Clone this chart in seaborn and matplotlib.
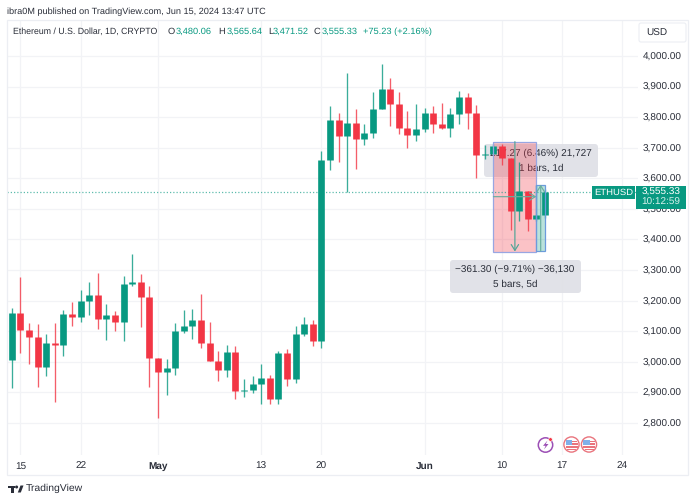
import numpy as np
import pandas as pd
import matplotlib
matplotlib.use("Agg")
import matplotlib.pyplot as plt
from matplotlib.patches import Rectangle, FancyBboxPatch, Circle, Polygon
import seaborn as sns

# --- data -----------------------------------------------------------------
dates = pd.date_range("2024-04-14", "2024-06-15", freq="D")
opens = [3006,3158,3104,3082,2984,3063,3055,3155,3145,3199,3218,3139,3153,3129,3253,3260,3213,3011,2968,2981,3101,3117,3137,3060,3003,2973,3033,2906,2908,2926,2946,2878,3029,2944,3090,3123,3069,
         3660,3791,3738,3782,3727,3749,3826,3893,3842,3763,3743,3760,3812,3779,3764,3809,3866,3815,3676,3680,3706,3665,3494,3558,3466,3480.06]
closes = [3158,3104,3082,2984,3063,3055,3155,3145,3199,3218,3139,3153,3129,3253,3260,3213,3011,2968,2981,3101,3117,3137,3060,3003,2973,3033,2906,2908,2926,2946,2878,3029,2944,3090,3123,3069,3660,
          3791,3738,3782,3727,3749,3826,3893,3842,3763,3743,3760,3812,3779,3764,3809,3866,3815,3676,3680,3706,3667,3494,3558,3466,3480,3555.33]
highs = [3175,3278,3126,3122,3091,3126,3169,3194,3235,3262,3291,3189,3166,3281,3351,3286,3248,3011,3009,3126,3169,3172,3221,3129,3036,3055,3052,2943,2954,2992,2957,3036,3041,3117,3145,3137,3690,
         3838,3812,3945,3827,3778,3881,3974,3927,3882,3821,3843,3829,3836,3847,3830,3887,3878,3840,3709,3712,3712,3665,3654,3558,3579,3565.64]
lows = [2913,3028,2992,2917,2954,2867,3019,3117,3129,3153,3106,3071,3101,3069,3248,3115,2919,2815,2891,2957,3095,3073,3046,3003,2937,2949,2878,2886,2899,2862,2862,2862,2922,2932,3084,3052,3046,
        3627,3654,3556,3629,3709,3733,3826,3772,3744,3700,3723,3750,3749,3760,3734,3778,3761,3600,3663,3698,3644,3431,3461,3429,3460,3471.52]
y_ticks = [2800,2900,3000,3100,3200,3300,3400,3500,3600,3700,3800,3900,4000]
x_tick_dates = ["2024-04-15","2024-04-22","2024-05-01","2024-05-13","2024-05-20","2024-06-01","2024-06-10","2024-06-17","2024-06-24"]
x_tick_labels = ["15","22","May","13","20","Jun","10","17","24"]
last_price = 3555.33
drop_top, drop_bottom = 3720.0, 3358.7
rise_bottom, rise_top = 3362.0, 3579.27

GREEN, RED = "#089981", "#F23645"
INK = "#2a2e39"
GRID = "#f2f3f6"
FS = 7.0

sns.set_theme(style="white")
plt.rcParams["font.family"] = ["Liberation Sans", "DejaVu Sans"]
plt.rcParams["text.hinting"] = "no_hinting"

W, H = 696, 501
fig = plt.figure(figsize=(W/100, H/100), dpi=100, facecolor="white")

def px_axes(x0, y0, x1, y1):
    return fig.add_axes([x0/W, 1-y1/H, (x1-x0)/W, (y1-y0)/H])

ax = px_axes(7, 20, 638, 455)
ax.set_facecolor("white")

origin = pd.Timestamp("2024-04-15")
day = np.array([(d-origin).days for d in dates])
df = pd.DataFrame({"day": day, "open": opens, "close": closes, "high": highs, "low": lows})
df["dir"] = np.where(df["close"] >= df["open"], "up", "down")
pal = {"up": GREEN, "down": RED}

wicks = df.melt(id_vars=["day", "dir"], value_vars=["low", "high"], value_name="price")
bodies = df.melt(id_vars=["day", "dir"], value_vars=["open", "close"], value_name="price")
sns.lineplot(data=wicks, x="day", y="price", hue="dir", units="day", estimator=None, palette=pal,
             legend=False, ax=ax, lw=0.95, alpha=0.8, zorder=4, solid_capstyle="butt", sort=False)
sns.lineplot(data=bodies, x="day", y="price", hue="dir", units="day", estimator=None, palette=pal,
             legend=False, ax=ax, lw=4.8, zorder=5, solid_capstyle="butt", sort=False)

# axes scale (8.6 px per day, 30.58 px per 100 USD)
ax.set_xlim((7-20.4)/8.6, (638-20.4)/8.6)
ax.set_ylim(4000-(455-56)/0.3058, 4000-(20-56)/0.3058)
ax.set_xlabel(""); ax.set_ylabel("")
ax.yaxis.tick_right()
ax.set_yticks(y_ticks)
ax.set_yticklabels([f"{v:,.2f}" for v in y_ticks])
xt = [(pd.Timestamp(d)-origin).days for d in x_tick_dates]
ax.set_xticks(xt)
ax.set_xticklabels(x_tick_labels)
ax.tick_params(axis="both", length=0, labelsize=FS+0.2, labelcolor=INK)
ax.tick_params(axis="y", pad=3.2)
ax.tick_params(axis="x", pad=4.5)
for t in ax.get_xticklabels():
    if t.get_text() in ("May", "Jun"):
        t.set_fontweight("bold")
ax.grid(True, color=GRID, lw=0.9)
ax.set_axisbelow(True)
for s in ax.spines.values():
    s.set_visible(False)

# last price line
ax.axhline(last_price, color=GREEN, lw=0.9, ls=(0, (1, 1.6)), alpha=0.65, zorder=3)

# measure tools in data space
d = lambda s: (pd.Timestamp(s)-origin).days
arrow = lambda c: dict(arrowstyle="->,head_length=0.35,head_width=0.22", color=c, lw=0.85, shrinkA=0, shrinkB=0)
x0, x1 = d("2024-06-09"), d("2024-06-14")
ax.add_patch(Rectangle((x0, drop_bottom), x1-x0, drop_top-drop_bottom, fc="#f23645", alpha=0.30, ec="none", zorder=2))
ax.add_patch(Rectangle((x0, drop_bottom), x1-x0, drop_top-drop_bottom, fc="none", ec="#98a6e2", lw=0.9, zorder=6))
xm = (x0+x1)/2
ax.annotate("", xy=(xm, drop_bottom+2), xytext=(xm, drop_top), zorder=6, arrowprops=arrow("#4fa596"))
ax.annotate("", xy=(x1, 3540), xytext=(x0, 3540), zorder=6, arrowprops=arrow("#6aae9f"))
x2 = d("2024-06-15")
ax.add_patch(Rectangle((x1, rise_bottom), x2-x1, rise_top-rise_bottom, fc="#089981", alpha=0.28, ec="none", zorder=2))
ax.add_patch(Rectangle((x1, rise_bottom), x2-x1, rise_top-rise_bottom, fc="none", ec="#6c9bdc", lw=0.9, zorder=6))
xm2 = (x1+x2)/2
ax.annotate("", xy=(xm2, rise_top), xytext=(xm2, rise_bottom), zorder=6, arrowprops=arrow("#6aae9f"))

# overlay in pixel space for page furniture
ov = fig.add_axes([0, 0, 1, 1], zorder=10)
ov.set_xlim(0, W); ov.set_ylim(H, 0); ov.axis("off"); ov.patch.set_alpha(0)

# tooltip boxes live in the chart axes: above the grid, below the candles
def tip(x0_, y0_, x1_, y1_, lines, cx, ys):
    ax.add_patch(FancyBboxPatch((x0_+3, y0_+3), x1_-x0_-6, y1_-y0_-6, boxstyle="round,pad=3,rounding_size=3",
                                fc="#dfe0e6", ec="none", alpha=0.92, zorder=1.5, transform=ov.transData, clip_on=False))
    for s_, yy in zip(lines, ys):
        ax.text(cx, yy, s_, ha="center", va="center", fontsize=FS+0.2, color=INK, zorder=1.6, transform=ov.transData)

tip(484, 144, 598, 177, ["217.27 (6.46%) 21,727", "1 bars, 1d"], 541, [153.5, 168.5])
tip(450, 260, 581, 293, ["\u2212361.30 (\u22129.71%) \u221236,130", "5 bars, 5d"], 515, [269.5, 284.5])

# frame
ov.add_patch(Rectangle((7, 20), 681, 455, fc="none", ec="#eceef3", lw=0.9))

# header
ov.text(7, 12, "ibra0M published on TradingView.com, Jun 15, 2024 13:47 UTC", fontsize=6.6, color=INK, va="center")
ov.text(13, 32, "Ethereum / U.S. Dollar, 1D, CRYPTO", fontsize=6.35, color=INK, va="center")
for xp, s_, c in [(168,"O",INK),(176,"3,480.06",GREEN),(218,"H",INK),(227,"3,565.64",GREEN),(268,"L",INK),
                  (273,"3,471.52",GREEN),(314,"C",INK),(322,"3,555.33",GREEN),(363,"+75.23 (+2.16%)",GREEN)]:
    ov.text(xp, 32, s_, fontsize=6.7, color=c, va="center")

# USD box
ov.add_patch(FancyBboxPatch((639, 23), 47, 19, boxstyle="round,pad=0,rounding_size=2", fc="white", ec="#eceef3", lw=0.8))
ov.text(646, 33, "USD", fontsize=FS+0.2, color=INK, ha="left", va="center")

# price tags
ov.add_patch(Rectangle((592, 186), 43, 12.5, fc=GREEN, ec="none"))
ov.text(613.5, 192.3, "ETHUSD", fontsize=FS-0.2, color="white", ha="center", va="center")
ov.add_patch(Rectangle((636, 186), 50, 22.5, fc=GREEN, ec="none"))
ov.text(661, 191.8, "3,555.33", fontsize=FS+0.2, color="white", ha="center", va="center")
ov.text(661, 202.5, "10:12:59", fontsize=FS+0.2, color="#d5f0ea", ha="center", va="center")

# event icons
ov.add_patch(Circle((545.5, 445), 7.2, fc="white", ec="#9c4fb5", lw=1.1))
ov.add_patch(Polygon([(547.5, 440.5), (543, 445.8), (545.6, 445.8), (544, 449.5), (548.5, 444), (545.8, 444)],
                     fc="#9c4fb5", ec="none"))
ov.add_patch(Circle((550.5, 439.5), 1.8, fc=RED, ec="white", lw=0.4))
for cx in (571.5, 589):
    ov.add_patch(Circle((cx, 444.5), 7.6, fc="white", ec="#e9747d", lw=1.0))
    ov.add_patch(Rectangle((cx-6, 446), 12, 1.6, fc="#e9747d", ec="none"))
    ov.add_patch(Rectangle((cx-4.5, 449), 9, 1.4, fc="#e9747d", ec="none"))
    ov.add_patch(Rectangle((cx-6, 439.5), 6.5, 5.5, fc="#7fb0ea", ec="none"))
    ov.add_patch(Rectangle((cx+0.5, 440.5), 5, 1.3, fc="#e9747d", ec="none"))
    ov.add_patch(Rectangle((cx+0.5, 443.3), 5.5, 1.3, fc="#e9747d", ec="none"))

# TradingView mark
ov.add_patch(Rectangle((8, 485.5), 7, 2.6, fc=INK, ec="none"))
ov.add_patch(Rectangle((11, 485.5), 3.3, 7, fc=INK, ec="none"))
ov.add_patch(Circle((16.6, 487), 1.5, fc=INK, ec="none"))
ov.add_patch(Polygon([(17.8, 492.5), (20.5, 485.5), (23.5, 485.5), (20.8, 492.5)], fc=INK, ec="none"))
ov.text(25.5, 488.5, "TradingView", fontsize=7.5, color="#2a2e39", va="center")

fig.savefig("out.png", dpi=100)
